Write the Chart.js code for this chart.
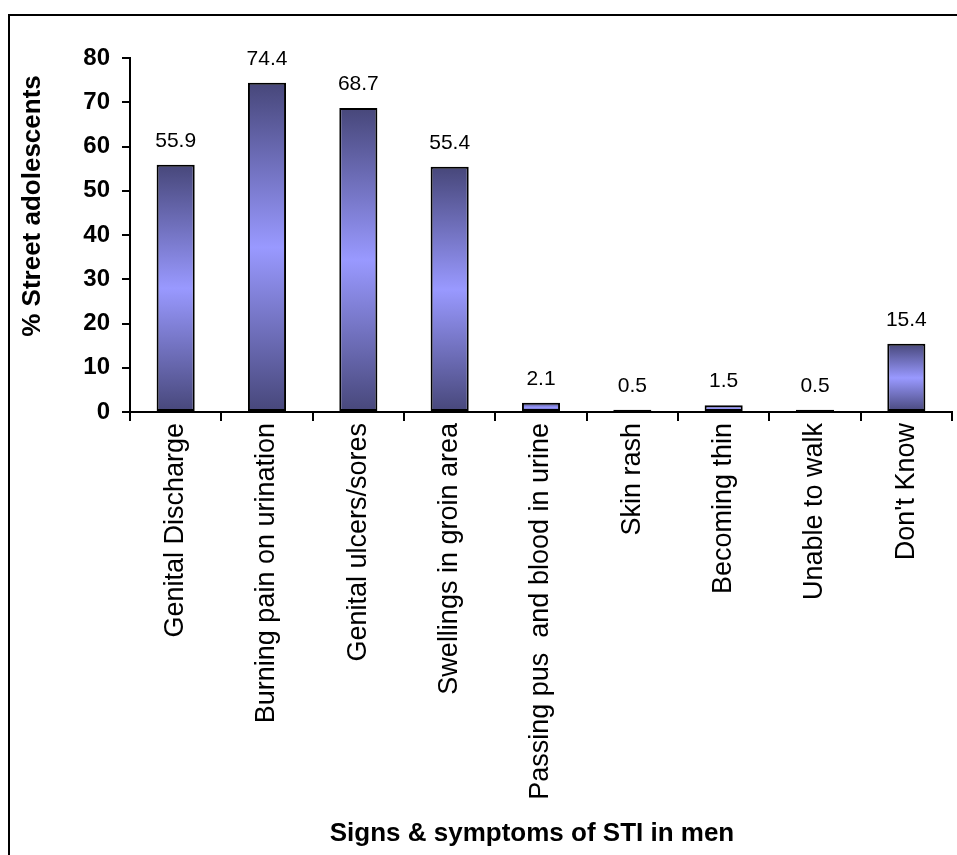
<!DOCTYPE html>
<html>
<head>
<meta charset="utf-8">
<script src="https://cdn.jsdelivr.net/npm/chart.js@4/dist/chart.umd.min.js"></script>
<style>
  html, body { margin: 0; padding: 0; background: #ffffff; }
  #wrap { width: 957px; height: 855px; position: relative; }
</style>
</head>
<body>
<div id="wrap"><canvas id="c" width="957" height="855"></canvas></div>
<script>
// Signs & symptoms of STI reported by street adolescents (men)
const categories = [
  'Genital Discharge',
  'Burning pain on urination',
  'Genital ulcers/sores',
  'Swellings in groin area',
  'Passing pus  and blood in urine',
  'Skin rash',
  'Becoming thin',
  'Unable to walk',
  "Don't Know"
];
const percentages = [55.9, 74.4, 68.7, 55.4, 2.1, 0.5, 1.5, 0.5, 15.4];
const yTicks = [0, 10, 20, 30, 40, 50, 60, 70, 80];

const xTitle = 'Signs & symptoms of STI in men';
const yTitle = '% Street adolescents';

const FONT = "'Liberation Sans', Arial, Helvetica, sans-serif";

// Bars shade dark at both ends and light in the middle
function barGradient(context) {
  const chart = context.chart;
  if (!chart.chartArea || !chart.scales.y) return '#7070c0';
  const v = context.raw;
  const top = chart.scales.y.getPixelForValue(v);
  const bottom = chart.scales.y.getPixelForValue(0);
  if (!isFinite(top) || !isFinite(bottom) || Math.abs(bottom - top) < 1) return '#4a4a7c';
  const g = chart.ctx.createLinearGradient(0, top, 0, bottom);
  g.addColorStop(0, '#47477a');
  g.addColorStop(0.5, '#9999ff');
  g.addColorStop(1, '#47477a');
  return g;
}

// Outer frame around the figure
const framePlugin = {
  id: 'frame',
  beforeDraw(chart) {
    const ctx = chart.ctx;
    ctx.save();
    ctx.strokeStyle = '#000';
    ctx.lineWidth = 2;
    ctx.strokeRect(9, 15, 1000, 900);
    ctx.restore();
  }
};

// Value labels above bars and the axis titles
const labelPlugin = {
  id: 'valueLabels',
  afterDatasetsDraw(chart) {
    const ctx = chart.ctx;
    const meta = chart.getDatasetMeta(0);
    ctx.save();
    ctx.fillStyle = '#000';
    ctx.font = '21px ' + FONT;
    ctx.textAlign = 'center';
    ctx.textBaseline = 'alphabetic';
    meta.data.forEach((bar, i) => {
      ctx.fillText(percentages[i].toFixed(1), bar.x, bar.y - 18);
    });
    ctx.restore();
  },
  afterDraw(chart) {
    const ctx = chart.ctx;
    ctx.save();
    ctx.fillStyle = '#000';
    ctx.font = 'bold 26px ' + FONT;
    ctx.textAlign = 'center';
    ctx.textBaseline = 'middle';
    ctx.fillText(xTitle, 532, 834);
    ctx.translate(33, 206);
    ctx.rotate(-Math.PI / 2);
    ctx.fillText(yTitle, 0, 0);
    ctx.restore();
  }
};

new Chart(document.getElementById('c'), {
  type: 'bar',
  data: {
    labels: categories,
    datasets: [{
      data: percentages,
      backgroundColor: barGradient,
      borderColor: '#000',
      borderWidth: 2,
      borderSkipped: false,
      barPercentage: 0.417,
      categoryPercentage: 1.0
    }]
  },
  options: {
    responsive: false,
    animation: false,
    layout: { padding: { left: 0, right: 5, top: 58, bottom: 0 } },
    plugins: {
      legend: { display: false },
      tooltip: { enabled: false },
      title: { display: false }
    },
    scales: {
      x: {
        offset: true,
        grid: {
          offset: true,
          drawOnChartArea: false,
          drawTicks: true,
          tickLength: 9,
          color: '#000',
          lineWidth: 2
        },
        border: { display: true, color: '#000', width: 2 },
        ticks: {
          autoSkip: false,
          maxRotation: 90,
          minRotation: 90,
          padding: 2,
          color: '#000',
          font: { family: FONT, size: 27 }
        },
        afterFit(scale) { scale.height = 443; }
      },
      y: {
        min: 0,
        max: 80,
        afterBuildTicks(scale) { scale.ticks = yTicks.map(v => ({ value: v })); },
        grid: {
          drawOnChartArea: false,
          drawTicks: true,
          tickLength: 8,
          color: '#000',
          lineWidth: 2
        },
        border: { display: true, color: '#000', width: 2 },
        ticks: {
          padding: 12,
          color: '#000',
          font: { family: FONT, size: 24, weight: 'bold' }
        },
        afterFit(scale) { scale.width = 130; }
      }
    }
  },
  plugins: [framePlugin, labelPlugin]
});
</script>
</body>
</html>
